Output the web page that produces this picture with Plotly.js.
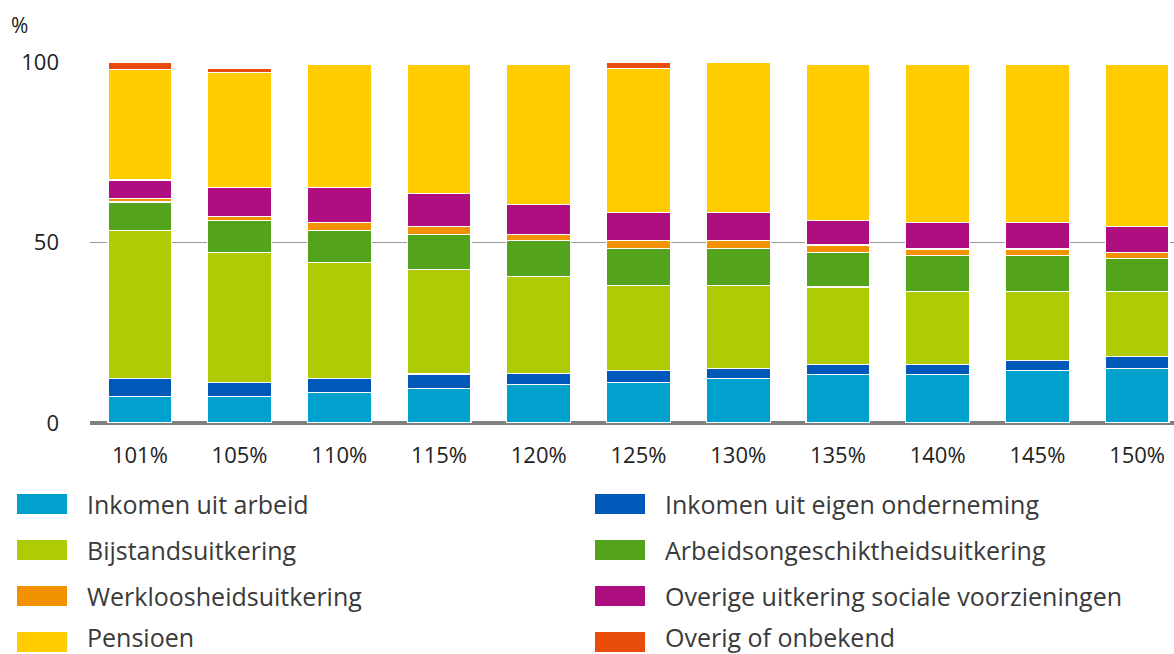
<!DOCTYPE html>
<html>
<head>
<meta charset="utf-8">
<script src="https://cdn.plot.ly/plotly-3.0.1.min.js"></script>
<style>
html,body{margin:0;padding:0;overflow:hidden;background:#fff;}
#chart{width:1174px;height:654px;}
</style>
</head>
<body>
<div id="chart"></div>
<script>
const categories = ['101%','105%','110%','115%','120%','125%','130%','135%','140%','145%','150%'];
const seriesNames = [
  'Inkomen uit arbeid',
  'Inkomen uit eigen onderneming',
  'Bijstandsuitkering',
  'Arbeidsongeschiktheidsuitkering',
  'Werkloosheidsuitkering',
  'Overige uitkering sociale voorzieningen',
  'Pensioen',
  'Overig of onbekend'
];
const seriesColors = ['#00a1cd','#0058b8','#afcb05','#53a31d','#f39200','#af0e80','#ffcc00','#e94c0a'];

const inkomenArbeid      = [7.4, 7.4, 8.5, 9.6, 10.7, 11.3, 12.4, 13.5, 13.5, 14.6, 15.2];
const eigenOnderneming   = [5.0, 3.9, 3.9, 4.0, 3.0, 3.3, 2.8, 2.8, 2.8, 2.8, 3.3];
const bijstand           = [41.0, 36.0, 32.0, 29.0, 26.8, 23.6, 23.0, 21.4, 20.2, 19.1, 18.0];
const arbeidsongeschikt  = [7.8, 8.9, 9.0, 9.7, 10.0, 10.1, 10.1, 9.5, 9.8, 9.8, 9.0];
const werkloosheid       = [1.1, 1.0, 2.2, 2.2, 1.8, 2.2, 2.2, 2.1, 1.9, 1.9, 1.7];
const overigeSociaal     = [5.0, 8.0, 9.6, 9.0, 8.3, 7.9, 7.9, 6.9, 7.4, 7.4, 7.3];
const pensioen           = [30.7, 31.8, 34.0, 35.7, 38.6, 39.7, 41.6, 43.0, 43.6, 43.6, 44.7];
const overigOnbekend     = [2.0, 1.1, 0, 0, 0, 1.9, 0, 0, 0, 0, 0];

const seriesValues = [inkomenArbeid, eigenOnderneming, bijstand, arbeidsongeschikt,
                      werkloosheid, overigeSociaal, pensioen, overigOnbekend];

const FONT = '"Open Sans", "DejaVu Sans", sans-serif';

const traces = seriesNames.map((name, i) => ({
  type: 'bar',
  name: name,
  x: categories,
  y: seriesValues[i],
  width: 0.64,
  marker: {color: seriesColors[i], line: {color: '#ffffff', width: 1.2}},
  hoverinfo: 'x+y+name'
}));

// plot area geometry (pixels)
const W = 1174, H = 654;
const M = {l: 90, r: 0, t: 62, b: 231};
const pw = W - M.l - M.r, ph = H - M.t - M.b;
const px = x => (x - M.l) / pw;
const py = y => (H - M.b - y) / ph;

const shapes = [];
const annotations = [];
// custom legend: two columns, four rows
const colX = [17, 595];
const rowY = [504, 550, 596, 637];
seriesNames.forEach((name, i) => {
  const col = i % 2, row = Math.floor(i / 2);
  const x0 = colX[col], yc = rowY[row];
  const sy = row === 3 ? 642 : yc;
  shapes.push({
    type: 'rect', xref: 'paper', yref: 'paper',
    x0: px(x0), x1: px(x0 + 50), y0: py(sy + 10), y1: py(sy - 10),
    fillcolor: seriesColors[i], line: {width: 0}
  });
  annotations.push({
    xref: 'paper', yref: 'paper', x: px(x0 + 68), y: py(yc),
    xanchor: 'left', yanchor: 'middle', showarrow: false,
    text: name, font: {family: FONT, size: 25, color: '#3a3a3a'}
  });
});
annotations.push({
  xref: 'paper', yref: 'paper', x: px(9), y: py(25),
  xanchor: 'left', yanchor: 'middle', showarrow: false,
  text: '%', font: {family: FONT, size: 21, color: '#222222'}
});

const layout = {
  width: W, height: H,
  margin: M,
  paper_bgcolor: '#ffffff', plot_bgcolor: '#ffffff',
  barmode: 'stack',
  showlegend: false,
  font: {family: FONT, size: 22, color: '#222222'},
  xaxis: {
    type: 'category',
    range: [-0.5, 10.37],
    showgrid: false, zeroline: false, showline: false,
    ticks: '', ticklabelstandoff: 17,
    tickfont: {family: FONT, size: 22, color: '#222222'},
    fixedrange: true
  },
  yaxis: {
    range: [0, 100],
    tickvals: [0, 50, 100],
    ticktext: ['0', '50', '100'],
    showgrid: true, gridcolor: '#9a9a9a', gridwidth: 1.5,
    zeroline: true, zerolinecolor: '#808080', zerolinewidth: 3.5,
    showline: false, ticks: '', ticklabelstandoff: 30,
    tickfont: {family: FONT, size: 22, color: '#222222'},
    fixedrange: true
  },
  shapes: shapes,
  annotations: annotations
};

Plotly.newPlot('chart', traces, layout, {displayModeBar: false, staticPlot: true});
</script>
</body>
</html>
